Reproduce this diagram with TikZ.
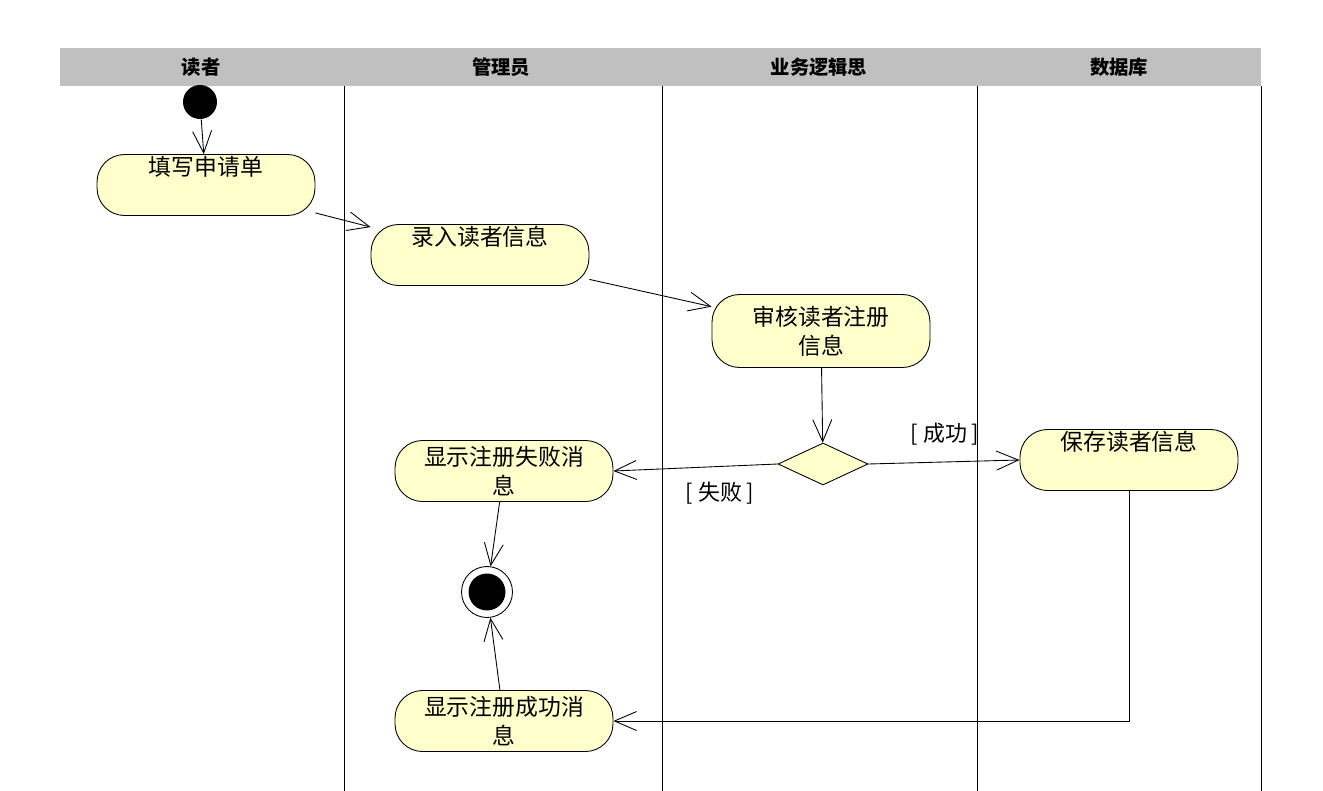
\documentclass[tikz,border=0pt]{standalone}
\usepackage{fontspec}
\setmainfont{Noto Sans CJK SC}
\usepackage{xcolor}
\usetikzlibrary{positioning,arrows.meta,shapes.geometric}

\definecolor{actfill}{RGB}{255,255,204}
\definecolor{lanegray}{RGB}{192,192,192}

\begin{document}
\begin{tikzpicture}[x=0.02cm,y=-0.02cm,line width=0.5pt,
                    every node/.style={font=\fontsize{13}{16.5}\selectfont},
                    act/.style={draw,fill=actfill,rounded corners=0.55cm,
                                minimum width=4.36cm,minimum height=1.22cm,
                                align=center,inner sep=1pt},
                    lane/.style={font=\fontsize{11}{13}\selectfont\bfseries},
                    flow/.style={-{Straight Barb[length=4.4mm,width=3.8mm]}},
                    guard/.style={font=\fontsize{12.5}{15}\selectfont}]
  \useasboundingbox (0,0) rectangle (1323,791);

  % swimlanes
  \fill[lanegray] (60,48) rectangle (1261,86);
  \node[lane] (hReader) at (201,67) {读者};
  \node[lane] (hAdmin)  at (501,67) {管理员};
  \node[lane] (hLogic)  at (819,67) {业务逻辑思};
  \node[lane] (hDb)     at (1119,67) {数据库};
  \foreach \x in {344,662,977,1261}
    \draw (\x,86) -- (\x,791);

  % activities
  \node[circle,fill=black,inner sep=0pt,minimum size=0.68cm] (start) at (200,102) {};
  \node[act] (fillForm) at (206,185) {填写申请单\\\strut};
  \node[act] (enter)    at (480,255) {录入读者信息\\\strut};
  \node[act,minimum height=1.46cm] (review) at (821,331) {审核读者注册\\信息};
  \node[diamond,draw,fill=actfill,inner sep=0pt,
        minimum width=1.8cm,minimum height=0.84cm] (dec) at (823,464) {};
  \node[act] (save)     at (1129,460) {保存读者信息\\\strut};
  \node[act] (fail)     at (504,471) {显示注册失败消\\息};
  \node[act] (succ)     at (504,721) {显示注册成功消\\息};
  \node[circle,draw,fill=white,inner sep=0pt,minimum size=1.02cm] (final) at (487,592) {};
  \node[circle,fill=black,inner sep=0pt,minimum size=0.74cm] at (final) {};

  % transitions
  \draw[flow] (start) -- (fillForm);
  \draw[flow] (fillForm) -- (enter);
  \draw[flow] (enter) -- (review);
  \draw[flow] (review) -- (dec);
  \draw[flow] (dec.west) -- (fail.east);
  \draw[flow] (dec.east) -- (save.west);
  \draw[flow] (fail) -- (final);
  \draw[flow] (succ) -- (final);
  \draw[flow] (save.south) |- (succ.east);

  \node[guard] (gOk)   at (945,434) {[ 成功 ]};
  \node[guard] (gFail) at (720,493) {[ 失败 ]};
\end{tikzpicture}
\end{document}
